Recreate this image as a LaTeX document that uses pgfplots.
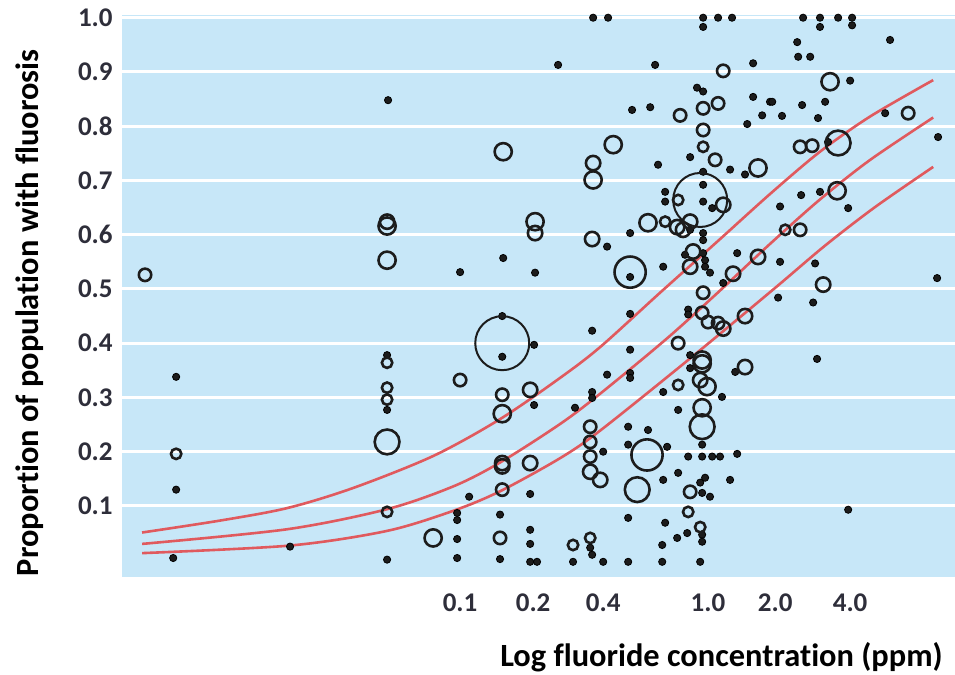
\documentclass[border=0pt]{standalone}
\usepackage{fontspec}
\setmainfont{Carlito}[Ligatures=NoCommon]
\usepackage{pgfplots}
\pgfplotsset{compat=1.18}
\definecolor{bgblue}{HTML}{C7E7F8}
\definecolor{curve}{HTML}{E05A5E}
\definecolor{pt}{HTML}{1C1C1C}
\definecolor{lbl}{HTML}{2E2E3A}
\pgfplotsset{
  dots/.style={only marks, mark=*, mark size=1.8pt, mark options={draw=none, fill=pt}},
  ring/.style={only marks, mark=o, mark size=#1, mark options={draw=pt, line width=1.3pt}},
  fitline/.style={draw=curve, line width=1.3pt, smooth, no marks},
}
\begin{document}
\begin{tikzpicture}
\useasboundingbox (-61pt,-49pt) rectangle (416.5pt,288.5pt);
\begin{axis}[
  scale only axis, width=416.5pt, height=281pt,
  xmin=-2.376, xmax=1.024, ymin=-0.031, ymax=1.005,
  axis background/.style={fill=bgblue},
  axis line style={draw=none},
  major tick length=0pt,
  xtick={-0.996,-0.698,-0.412,0.016,0.290,0.596},
  xticklabels={0.1,0.2,0.4,1.0,2.0,4.0},
  ytick={0.1,0.2,0.3,0.4,0.5,0.6,0.7,0.8,0.9,1.0},
  yticklabels={0.1,0.2,0.3,0.4,0.5,0.6,0.7,0.8,0.9,1.0},
  ymajorgrids, grid style={white, line width=1.5pt},
  ticklabel style={font=\fontsize{13.5}{16}\selectfont\bfseries, text=lbl},
  yticklabel style={anchor=east, inner sep=0pt, xshift=-4.5pt},
  xticklabel style={anchor=north, inner sep=0pt, yshift=-8pt},
  xlabel={Log fluoride concentration (ppm)},
  ylabel={Proportion of population with fluorosis},
  label style={font=\fontsize{16.2}{19}\selectfont\bfseries, text=black},
  xlabel style={at={(rel axis cs:0.9856,-0.160)}, anchor=base east, inner sep=0pt},
  ylabel style={at={(rel axis cs:-0.1105,0.47)}, anchor=center, inner sep=0pt},
  clip=false,
]
% fitted curves
\addplot[fitline] coordinates {(-2.294,0.051) (-1.976,0.073) (-1.702,0.096) (-1.433,0.133) (-1.106,0.192) (-0.833,0.260) (-0.588,0.336) (-0.424,0.393) (-0.180,0.493) (0.053,0.587) (0.269,0.675) (0.473,0.753) (0.678,0.818) (0.935,0.885)};
\addplot[fitline] coordinates {(-2.294,0.030) (-1.702,0.057) (-1.294,0.094) (-1.024,0.136) (-0.833,0.180) (-0.588,0.251) (-0.424,0.307) (-0.151,0.409) (0.065,0.497) (0.269,0.583) (0.473,0.665) (0.678,0.738) (0.935,0.816)};
\addplot[fitline] coordinates {(-2.294,0.013) (-1.690,0.027) (-1.294,0.054) (-1.024,0.091) (-0.833,0.127) (-0.588,0.188) (-0.424,0.239) (-0.057,0.372) (0.290,0.502) (0.494,0.580) (0.698,0.651) (0.935,0.725)};
% filled dots
\addplot[dots] coordinates {
(-2.155,0.338) (-2.155,0.130) (-2.167,0.004) (-1.690,0.025) (-1.290,0.848)
(-0.996,0.531) (-1.294,0.378) (-1.294,0.277) (-1.294,0.001)
(-1.008,0.087) (-1.008,0.074) (-1.008,0.039) (-1.008,0.004) (-0.959,0.117)
(-0.453,1.000) (-0.392,1.000) (-0.596,0.913) (-0.396,0.578) (-0.820,0.557) (-0.690,0.530)
(-0.824,0.450) (-0.824,0.375) (-0.694,0.397) (-0.457,0.423) (-0.694,0.286) (-0.396,0.342)
(-0.457,0.310) (-0.457,0.299) (-0.527,0.281) (-0.412,0.200) (-0.710,0.122) (-0.833,0.084)
(-0.710,0.056) (-0.710,0.030) (-0.710,-0.003) (-0.682,-0.003) (-0.833,0.002) (-0.535,-0.003)
(-0.465,0.023) (-0.457,0.010) (-0.412,-0.003)
(-0.004,1.000) (0.057,1.000) (0.114,1.000) (-0.004,0.983) (-0.200,0.913) (0.200,0.916)
(-0.029,0.871) (-0.004,0.864) (-0.294,0.830) (-0.220,0.835) (0.200,0.854) (0.269,0.845)
(0.237,0.820) (0.176,0.804) (-0.057,0.743) (-0.188,0.729) (0.106,0.720) (0.167,0.711)
(-0.004,0.716) (-0.004,0.692) (-0.004,0.661) (-0.159,0.679) (-0.159,0.661) (0.033,0.649)
(-0.302,0.603) (-0.057,0.609) (-0.004,0.603) (-0.004,0.590) (-0.078,0.563) (-0.004,0.566)
(0.004,0.553) (0.135,0.566) (0.004,0.541) (0.024,0.530) (0.078,0.511) (-0.167,0.541)
(-0.302,0.522)
(-0.302,0.454) (-0.065,0.462) (-0.065,0.453) (0.302,0.484) (-0.302,0.388) (-0.302,0.345)
(-0.302,0.336) (-0.057,0.378) (-0.057,0.354) (0.073,0.301) (0.127,0.347) (-0.167,0.310)
(-0.106,0.277) (-0.008,0.213) (-0.065,0.191) (-0.008,0.191) (0.033,0.191) (0.065,0.191)
(0.135,0.196) (-0.310,0.246) (-0.229,0.240) (-0.310,0.213) (-0.151,0.209) (-0.106,0.161)
(-0.167,0.148) (-0.016,0.143) (0.004,0.152) (-0.008,0.124) (0.024,0.117) (0.106,0.148)
(-0.310,0.078) (-0.159,0.069) (-0.008,0.047) (-0.008,0.034) (-0.110,0.041) (-0.069,0.050)
(-0.171,0.028) (-0.310,-0.003) (-0.171,-0.003) (-0.016,-0.003)
(0.404,1.000) (0.473,1.000) (0.547,1.000) (0.604,1.000) (0.604,0.986) (0.473,0.983)
(0.380,0.955) (0.384,0.928) (0.433,0.928) (0.759,0.959) (0.596,0.884) (0.278,0.845)
(0.400,0.839) (0.494,0.845) (0.318,0.819) (0.465,0.815) (0.739,0.824) (0.955,0.780)
(0.506,0.771) (0.473,0.679) (0.396,0.673) (0.310,0.652) (0.588,0.649) (0.310,0.550)
(0.453,0.547) (0.951,0.520) (0.445,0.475) (0.461,0.371) (0.588,0.093)
};
% open circles, by size
\addplot[ring=2.6pt] coordinates {
(-2.155,0.196) (-1.294,0.364) (-1.294,0.318) (-1.294,0.296) (-1.294,0.089) (-0.535,0.028)
(-0.465,0.041) (-0.004,0.762) (-0.106,0.664) (-0.159,0.624) (-0.106,0.323) (-0.065,0.089)
(-0.016,0.061) (0.331,0.609)
};
\addplot[ring=3.1pt] coordinates {
(-2.282,0.526) (-0.996,0.332) (-0.824,0.305) (-0.465,0.246) (-0.465,0.218) (-0.465,0.191)
(-0.824,0.130) (-0.833,0.041) (0.078,0.902) (-0.098,0.820) (-0.004,0.833) (0.057,0.842)
(-0.004,0.793) (0.045,0.738) (-0.004,0.493) (-0.008,0.456) (0.016,0.439) (0.057,0.437)
(-0.106,0.400) (-0.057,0.126) (0.833,0.824) (0.392,0.762) (0.441,0.764) (0.392,0.609)
};
\addplot[ring=3.6pt] coordinates {
(-0.453,0.732) (-0.690,0.603) (-0.457,0.592) (-0.710,0.314) (-0.465,0.163) (-0.424,0.148)
(-0.824,0.179) (-0.824,0.173) (-0.710,0.179) (0.078,0.655) (-0.110,0.614) (-0.086,0.609)
(-0.057,0.624) (-0.045,0.569) (0.220,0.559) (-0.057,0.541) (0.118,0.528) (0.078,0.427)
(0.167,0.450) (-0.016,0.332) (0.167,0.356) (0.486,0.508) (-1.294,0.624)
};
\addplot[ring=4.3pt] coordinates {
(-1.294,0.616) (-1.294,0.553) (-0.820,0.753) (-0.371,0.766) (-0.453,0.701) (-0.690,0.624)
(-0.824,0.270) (-1.106,0.041) (-0.229,0.622) (0.220,0.723) (-0.008,0.369) (-0.008,0.362)
(0.012,0.320) (-0.008,0.281) (0.514,0.882) (0.543,0.681)
};
\addplot[ring=6.2pt] coordinates {(-1.294,0.218) (-0.008,0.246) (-0.273,0.130) (0.547,0.769)};
\addplot[ring=7.8pt] coordinates {(-0.302,0.531) (-0.233,0.194)};
\addplot[only marks, mark=o, mark size=13.5pt, mark options={draw=pt, line width=1pt}] coordinates {(-0.824,0.400) (-0.016,0.664)};
\end{axis}
\end{tikzpicture}
\end{document}
